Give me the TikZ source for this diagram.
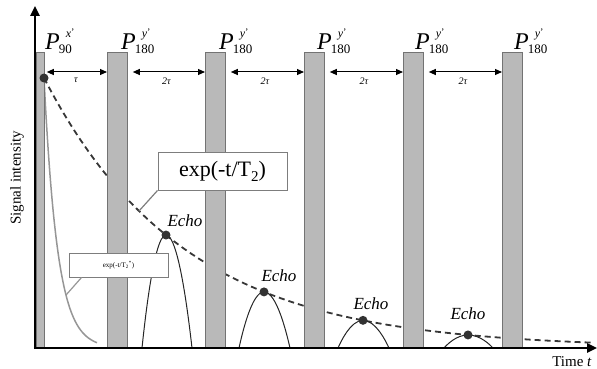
\documentclass[tikz,border=0pt]{standalone}
\usepackage{fontspec}
\setmainfont{Liberation Serif}
\usetikzlibrary{arrows.meta,calc}
\definecolor{barfill}{RGB}{185,185,185}
\definecolor{bardraw}{RGB}{115,115,115}
\definecolor{curvec}{RGB}{55,55,55}
\definecolor{fidc}{RGB}{150,150,150}
\definecolor{dotc}{RGB}{50,50,50}
\definecolor{boxc}{RGB}{125,125,125}
\newcommand{\plab}[2]{\fontsize{24}{24}\selectfont\textit{P}\kern-1pt\rlap{\raisebox{12pt}{\hspace{7pt}\fontsize{12}{12}\selectfont\textit{#1}\raisebox{2pt}{\fontsize{10}{10}\selectfont'}}}\raisebox{-4pt}{\fontsize{13}{13}\selectfont #2}}
\begin{document}
\begin{tikzpicture}[x=1pt,y=-1pt,
  bar/.style={draw=bardraw,fill=barfill,line width=0.8pt,minimum height=295pt,anchor=south west,inner sep=0pt},
  dcurve/.style={draw=curvec,line width=1.8pt,dash pattern=on 6pt off 4pt},
  fid/.style={draw=fidc,line width=1.5pt},
  dotn/.style={circle,fill=dotc,inner sep=0pt,minimum size=9pt},
  echoline/.style={draw=black!85,line width=1pt},
  echolab/.style={font=\fontsize{17}{17}\selectfont\itshape,inner sep=0pt},
  plabel/.style={anchor=base west,inner sep=0pt},
  dim/.style={line width=1pt,{Triangle[length=7pt,width=6pt]}-{Triangle[length=7pt,width=6pt]}},
  dimlab/.style={font=\fontsize{10}{10}\selectfont\itshape,inner sep=0pt},
  axisline/.style={line width=2.4pt,-{Triangle[length=10pt,width=9pt]}},
  callout/.style={draw=boxc,line width=1.2pt},
  tbox/.style={draw=boxc,fill=white,line width=1pt,inner sep=0pt}
]
\useasboundingbox (0,0) rectangle (597,369);

% dashed T2 decay
\draw[dcurve] plot[domain=44:592,samples=150] (\x,{348-270*exp(-(\x-44)/140)});

% FID curve
\draw[fid] plot[domain=44:97,samples=80] (\x,{348-270*exp(-(\x-44)/13.5)});

% pulse bars
\node[bar,minimum width=8pt] (b1) at (36,348) {};
\node[bar,minimum width=20pt] (b2) at (107,348) {};
\node[bar,minimum width=20pt] (b3) at (205,348) {};
\node[bar,minimum width=20pt] (b4) at (304,348) {};
\node[bar,minimum width=20pt] (b5) at (403,348) {};
\node[bar,minimum width=20pt] (b6) at (502,348) {};

% pulse labels
\node[plabel] (p1) at (45,50) {\plab{x}{90}};
\node[plabel] (p2) at (121,50) {\plab{y}{180}};
\node[plabel] (p3) at (219,50) {\plab{y}{180}};
\node[plabel] (p4) at (317,50) {\plab{y}{180}};
\node[plabel] (p5) at (415,50) {\plab{y}{180}};
\node[plabel] (p6) at (514,50) {\plab{y}{180}};

% timing arrows
\coordinate (ar) at (0,72);
\draw[dim,shorten <=2pt] (b1.east |- ar) -- (b2.west |- ar) node[dimlab,midway,below=5pt] {τ};
\draw[dim,shorten <=5pt] (b2.east |- ar) -- (b3.west |- ar) node[dimlab,midway,below=5pt] {2τ};
\draw[dim,shorten <=5pt] (b3.east |- ar) -- (b4.west |- ar) node[dimlab,midway,below=5pt] {2τ};
\draw[dim,shorten <=5pt] (b4.east |- ar) -- (b5.west |- ar) node[dimlab,midway,below=5pt] {2τ};
\draw[dim,shorten <=5pt] (b5.east |- ar) -- (b6.west |- ar) node[dimlab,midway,below=5pt] {2τ};

% echoes
\coordinate (e1l) at (142,348); \coordinate (e1r) at (192,348);
\coordinate (e2l) at (239,348); \coordinate (e2r) at (290,348);
\coordinate (e3l) at (338,348); \coordinate (e3r) at (389,348);
\coordinate (e4l) at (444,348); \coordinate (e4r) at (493,348);
\coordinate (e1) at (166,{348-270*exp(-(166-44)/140)});
\coordinate (e2) at (264,{348-270*exp(-(264-44)/140)});
\coordinate (e3) at (363,{348-270*exp(-(363-44)/140)});
\coordinate (e4) at (468,{348-270*exp(-(468-44)/140)});
\draw[echoline] (e1l) parabola bend (e1) (e1r);
\draw[echoline] (e2l) parabola bend (e2) (e2r);
\draw[echoline] (e3l) parabola bend (e3) (e3r);
\draw[echoline] (e4l) parabola bend (e4) (e4r);
\node[dotn] (d0) at (44,78) {};
\node[dotn] (d1) at (e1) {};
\node[dotn] (d2) at (e2) {};
\node[dotn] (d3) at (e3) {};
\node[dotn] (d4) at (e4) {};
\node[echolab] (l1) at (185,221) {Echo};
\node[echolab] (l2) at (279,276) {Echo};
\node[echolab] (l3) at (371,304) {Echo};
\node[echolab] (l4) at (468,314) {Echo};

% label boxes
\coordinate (c1) at (139,{348-270*exp(-(139-44)/140)});
\coordinate (c2) at (66,{348-270*exp(-(66-44)/13.5)});
\node[tbox,minimum width=129pt,minimum height=38pt,font=\fontsize{22}{22}\selectfont] (T2) at (222.5,171) {exp(-t/T\raisebox{-5pt}{\fontsize{15}{15}\selectfont 2})};
\draw[callout] (T2.south west) -- (c1);
\node[tbox,minimum width=99pt,minimum height=24pt,font=\fontsize{7}{7}\selectfont] (T2s) at (118.5,265) {exp(-t/T\textsubscript{2}\textsuperscript{*})};
\draw[callout,draw=fidc] ([xshift=13pt]T2s.south west) -- (c2);

% axes
\coordinate (o) at (35,348);
\coordinate (ytop) at (35,6);
\coordinate (xend) at (597,348);
\draw[axisline] ([yshift=-1.2pt]o) -- (ytop);
\draw[axisline] ([xshift=-1.2pt]o) -- (xend);

% axis labels
\node[rotate=90,font=\fontsize{15}{15}\selectfont] (ylab) at (17,178) {Signal intensity};
\node[font=\fontsize{15}{15}\selectfont] (xlab) at (572,362) {Time \textit{t}};
\end{tikzpicture}
\end{document}
